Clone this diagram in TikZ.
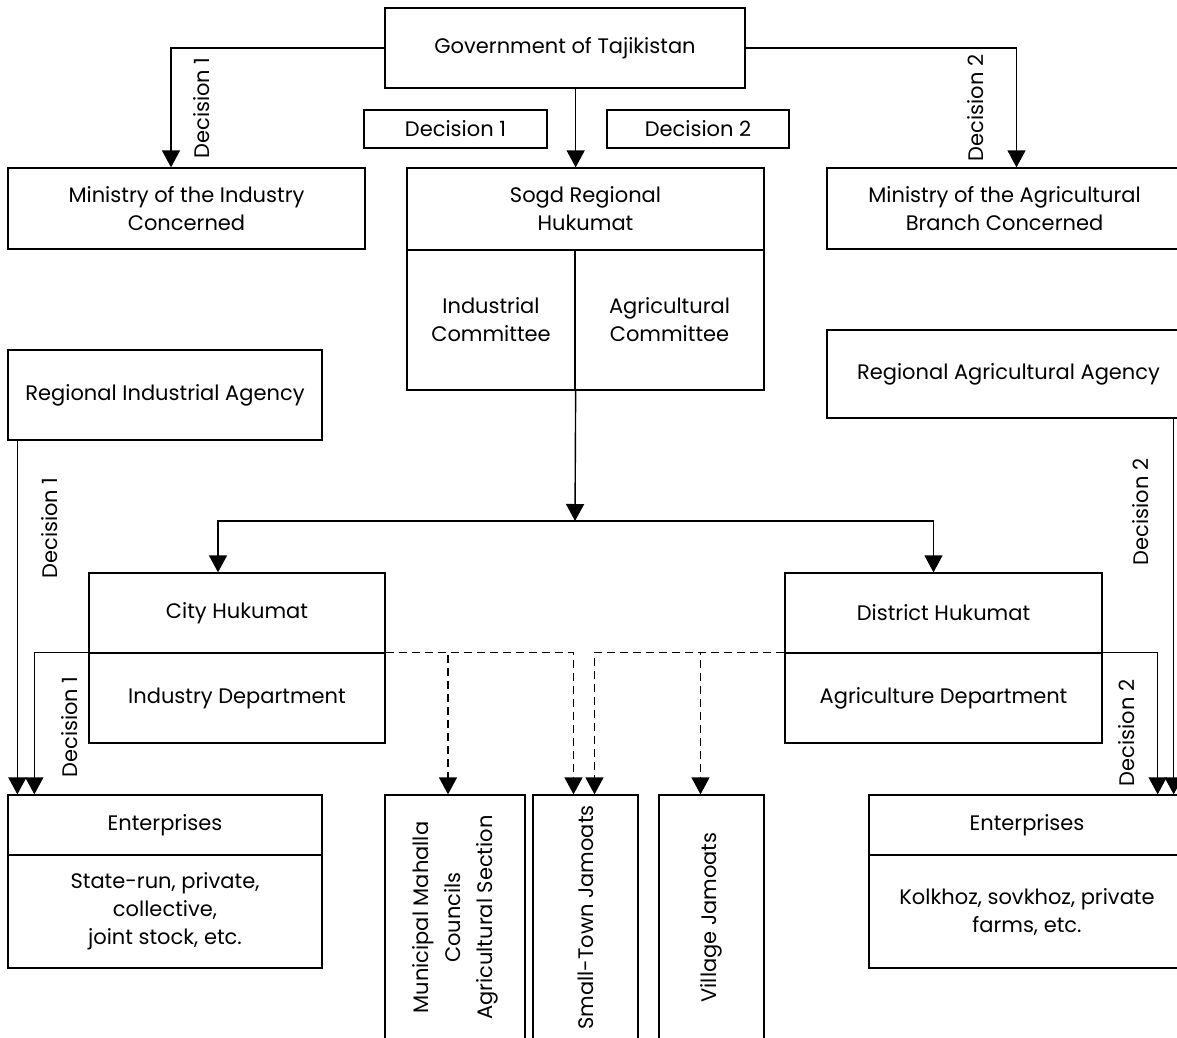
\documentclass[tikz,border=0pt]{standalone}
\usepackage{fontspec}
\setmainfont{Poppins}
\usetikzlibrary{arrows.meta,calc,positioning}

\begin{document}
\begin{tikzpicture}[x=1pt,y=-1pt]
    \tikzstyle{box}=[rectangle,draw,line width=1.3pt,inner sep=0pt,%
    align=center,font=\fontsize{21}{28}\selectfont] %
    \tikzstyle{lbl}=[rotate=90,inner sep=0pt,font=\fontsize{21}{28}\selectfont] %
    \tikzstyle{arr}=[line width=1.4pt,-{Triangle[width=18pt,length=17pt]}] %
    \tikzstyle{darr}=[arr,dash pattern=on 8pt off 5pt] %

    \clip (0,0) rectangle (1177,1037);

    %% Top level
    \node[box,minimum width=360pt,minimum height=80pt] (GOV) at (565,48)
         {Government of Tajikistan};
    \node[box,minimum width=183pt,minimum height=38pt] (DEC1) at (455.5,129)
         {Decision 1};
    \node[box,minimum width=182pt,minimum height=38pt] (DEC2) at (698,129)
         {Decision 2};

    %% Ministries and regional hukumat
    \node[box,minimum width=357pt,minimum height=81pt] (MININD) at (186.5,208.5)
         {Ministry of the Industry\\Concerned};
    \node[box,minimum width=357pt,minimum height=82pt] (SOGD) at (585.5,209)
         {Sogd Regional\\Hukumat};
    \node[box,minimum width=168pt,minimum height=140pt] (SOGDIND) at (491,320)
         {Industrial\\Committee};
    \node[box,minimum width=189pt,minimum height=140pt] (SOGDAGR) at (669.5,320)
         {Agricultural\\Committee};
    \node[box,minimum width=355pt,minimum height=81pt] (MINAGR) at (1004.5,208.5)
         {Ministry of the Agricultural\\Branch Concerned};

    %% Agencies
    \node[box,minimum width=314pt,minimum height=90pt] (REGIND) at (165,395)
         {Regional Industrial Agency};
    \node[box,minimum width=363pt,minimum height=88pt] (REGAGR) at (1008.5,374)
         {Regional Agricultural Agency};

    %% City and district
    \node[box,minimum width=296pt,minimum height=80pt] (CITY) at (237,613)
         {City Hukumat};
    \node[box,minimum width=296pt,minimum height=90pt] (CITYDEP) at (237,698)
         {Industry Department};
    \node[box,minimum width=317pt,minimum height=80pt] (DIST) at (943.5,613)
         {District Hukumat};
    \node[box,minimum width=317pt,minimum height=90pt] (DISTDEP) at (943.5,698)
         {Agriculture Department};

    %% Bottom row
    \node[box,minimum width=314pt,minimum height=60pt] (ENTL) at (165,825)
         {Enterprises};
    \node[box,minimum width=314pt,minimum height=113pt] (ENTLKIND) at (165,911.5)
         {State-run, private,\\collective,\\joint stock, etc.};
    \node[box,rotate=90,minimum width=245pt,minimum height=140pt,%
          font=\fontsize{21}{32}\selectfont] (MAHALLA)
         at (455,917.5) {Municipal Mahalla\\Councils\\Agricultural Section};
    \node[box,rotate=90,minimum width=245pt,minimum height=105pt] (SMALLTOWN)
         at (585.5,917.5) {Small-Town Jamoats};
    \node[box,rotate=90,minimum width=245pt,minimum height=105pt] (VILLAGE)
         at (711.5,917.5) {Village Jamoats};
    \node[box,minimum width=316pt,minimum height=60pt] (ENTR) at (1027,825)
         {Enterprises};
    \node[box,minimum width=316pt,minimum height=113pt] (ENTRKIND) at (1027,911.5)
         {Kolkhoz, sovkhoz, private\\farms, etc.};

    %% Decision labels
    \node[lbl] (LBL1) at (202,108) {Decision 1};
    \node[lbl] (LBL2) at (976,108) {Decision 2};
    \node[lbl] (LBL3) at (50,528) {Decision 1};
    \node[lbl] (LBL4) at (70,727) {Decision 1};
    \node[lbl] (LBL5) at (1141,512) {Decision 2};
    \node[lbl] (LBL6) at (1127,733) {Decision 2};

    %% Connectors
    \coordinate (SPLIT) at (575,521);
    \coordinate (AGRDROP) at ([xshift=-12pt]ENTR.north east);

    \draw[arr] (GOV.west) -| ([xshift=-15.5pt]MININD.north);
    \draw[arr] (GOV.east) -| ([xshift=12pt]MINAGR.north);
    \draw[arr] (GOV.south -| SOGDIND.north east) -- (SOGDIND.north east |- SOGD.north);
    \draw[arr] (SOGDIND.south east) -- (SPLIT);
    \draw[arr] (SPLIT) -| ([xshift=-19pt]CITY.north);
    \draw[arr] (SPLIT) -| ([xshift=-10pt]DIST.north);

    \draw[arr] ([xshift=10pt]REGIND.south west) -- ([xshift=10pt]ENTL.north west);
    \draw[arr] (CITYDEP.north west) -| ([xshift=27pt]ENTL.north west);
    \draw[arr] (REGAGR.south -| AGRDROP) -- (AGRDROP);
    \draw[arr] (DISTDEP.north east) -| ([xshift=-28pt]ENTR.north east);

    \draw[darr] (CITYDEP.north east) -| ([xshift=-7pt]MAHALLA.east);
    \draw[darr] (CITYDEP.north east) -| ([xshift=-12pt]SMALLTOWN.east);
    \draw[darr] (DISTDEP.north west) -| ([xshift=9pt]SMALLTOWN.east);
    \draw[darr] (DISTDEP.north west) -| ([xshift=-11pt]VILLAGE.east);
\end{tikzpicture}
\end{document}
